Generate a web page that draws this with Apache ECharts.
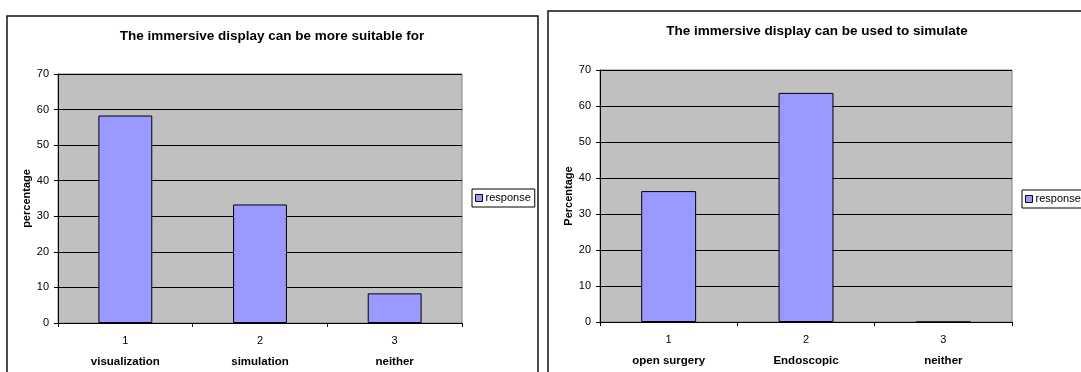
<!DOCTYPE html>
<html>
<head>
<meta charset="utf-8">
<style>
  html, body { margin: 0; padding: 0; background: #fff; }
  #chart { width: 1081px; height: 372px; }
</style>
<script src="https://cdn.jsdelivr.net/npm/echarts@6/dist/echarts.min.js"></script>
</head>
<body>
<div id="chart"></div>
<script>
// Survey responses (percent of respondents)
const suitableCategories = ['visualization', 'simulation', 'neither'];
const suitableValues = [58.33, 33.33, 8.33];
const simulateCategories = ['open surgery', 'Endoscopic', 'neither'];
const simulateValues = [36.36, 63.64, 0];
const yTicks = { min: 0, max: 70, interval: 10 };

const FONT = 'Liberation Sans, Arial, sans-serif';
const BAR_COLOR = '#9999FF';

function xAxisFor(gridIndex, cats) {
  return {
    type: 'category',
    gridIndex: gridIndex,
    data: cats,
    boundaryGap: true,
    axisLine: { show: true, lineStyle: { color: '#000', width: 1 } },
    axisTick: { show: true, inside: false, length: 4, lineStyle: { color: '#000' } },
    axisLabel: {
      margin: 11,
      fontFamily: FONT,
      formatter: function (value, index) {
        return '{n|' + (index + 1) + '}\n{c|' + value + '}';
      },
      rich: {
        n: { fontSize: 11, fontFamily: FONT, color: '#000', lineHeight: 14 },
        c: { fontSize: 11.5, fontFamily: FONT, fontWeight: 'bold', color: '#000', lineHeight: 27 }
      }
    },
    splitLine: { show: false }
  };
}

function yAxisFor(gridIndex, name) {
  return {
    type: 'value',
    gridIndex: gridIndex,
    min: yTicks.min,
    max: yTicks.max,
    interval: yTicks.interval,
    name: name,
    nameLocation: 'middle',
    nameRotate: 90,
    nameGap: 25,
    nameTextStyle: { fontFamily: FONT, fontSize: 11, fontWeight: 'bold', color: '#000' },
    axisLine: { show: true, lineStyle: { color: '#000', width: 1 } },
    axisTick: { show: true, length: 4, lineStyle: { color: '#000' } },
    axisLabel: { margin: 9, fontFamily: FONT, fontSize: 11, color: '#000' },
    splitLine: { show: true, lineStyle: { color: '#000', width: 1 } }
  };
}

function barSeries(idx, values) {
  return {
    name: 'response',
    type: 'bar',
    xAxisIndex: idx,
    yAxisIndex: idx,
    data: values,
    barWidth: '40%',
    itemStyle: { color: BAR_COLOR, borderColor: '#000', borderWidth: 1 }
  };
}

function legendAt(left, top) {
  return {
    data: ['response'],
    left: left,
    top: top,
    orient: 'vertical',
    icon: 'rect',
    itemWidth: 7,
    itemHeight: 7,
    itemGap: 4,
    padding: [3, 4, 3, 3],
    backgroundColor: '#fff',
    borderColor: '#000',
    borderWidth: 1,
    borderRadius: 0,
    selectedMode: false,
    textStyle: { fontFamily: FONT, fontSize: 11, color: '#000', lineHeight: 12, padding: [0, 0, 0, -2] },
    itemStyle: { borderColor: '#000', borderWidth: 1 }
  };
}

const chart = echarts.init(document.getElementById('chart'), null, { renderer: 'canvas' });

chart.setOption({
  animation: false,
  backgroundColor: '#fff',
  title: [
    {
      text: 'The immersive display can be more suitable for',
      left: 272, top: 29, padding: 0, textAlign: 'center',
      textStyle: { fontFamily: FONT, fontSize: 13.5, fontWeight: 'bold', color: '#000' }
    },
    {
      text: 'The immersive display can be used to simulate',
      left: 817, top: 24, padding: 0, textAlign: 'center',
      textStyle: { fontFamily: FONT, fontSize: 13.5, fontWeight: 'bold', color: '#000' }
    }
  ],
  legend: [legendAt(472, 189), legendAt(1022, 190)],
  grid: [
    { left: 58, top: 74, width: 404, height: 249, show: true, backgroundColor: '#C0C0C0', borderColor: '#808080', borderWidth: 1, containLabel: false },
    { left: 600, top: 70, width: 412, height: 252, show: true, backgroundColor: '#C0C0C0', borderColor: '#808080', borderWidth: 1, containLabel: false }
  ],
  xAxis: [xAxisFor(0, suitableCategories), xAxisFor(1, simulateCategories)],
  yAxis: [yAxisFor(0, 'percentage'), yAxisFor(1, 'Percentage')],
  series: [barSeries(0, suitableValues), barSeries(1, simulateValues)],
  graphic: [
    { type: 'rect', shape: { x: 7, y: 16, width: 531, height: 400 }, style: { fill: null, stroke: '#111', lineWidth: 1.5 }, silent: true, z: 100 },
    { type: 'rect', shape: { x: 548, y: 11, width: 600, height: 400 }, style: { fill: null, stroke: '#111', lineWidth: 1.5 }, silent: true, z: 100 }
  ]
});
</script>
</body>
</html>
